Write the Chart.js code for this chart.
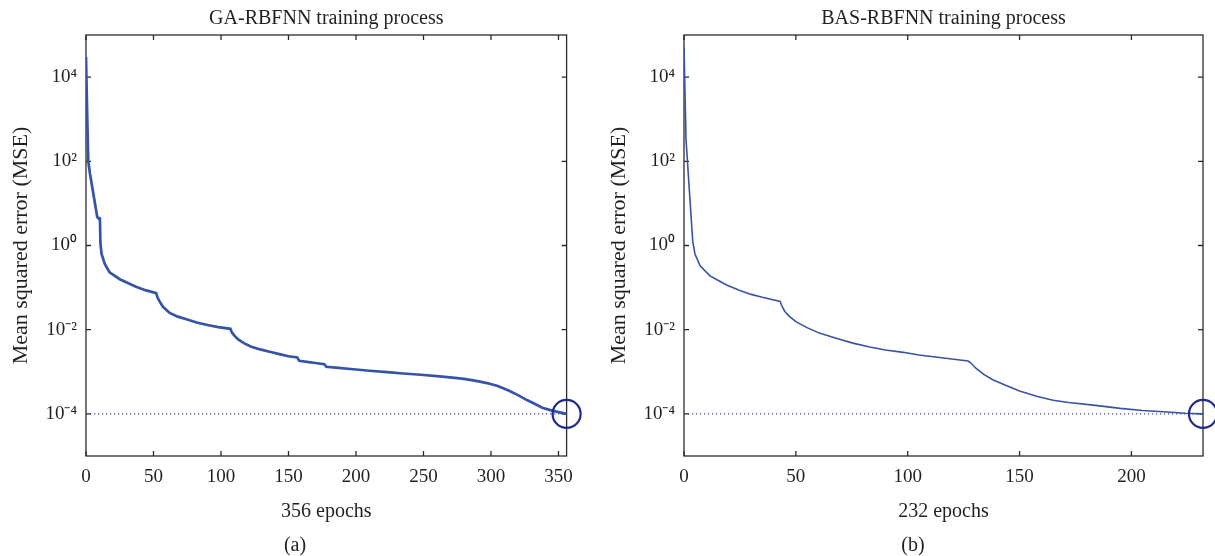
<!DOCTYPE html>
<html>
<head>
<meta charset="utf-8">
<script src="https://cdn.jsdelivr.net/npm/chart.js@4.4.1/dist/chart.umd.min.js"></script>
<style>
html, body { margin: 0; padding: 0; background: #fff; }
#wrap { position: relative; width: 1215px; height: 556px; overflow: hidden; }
#wrap canvas { position: absolute; top: 0; }
.cap { position: absolute; top: 533px; width: 60px; text-align: center; line-height: 23px;
       font: 20px "Liberation Serif", "Times New Roman", serif; color: #231f20; }
</style>
</head>
<body>
<div id="wrap">
  <canvas id="chartA" width="600" height="556" style="left:0"></canvas>
  <canvas id="chartB" width="615" height="556" style="left:600px"></canvas>
  <div class="cap" style="left:265px">(a)</div>
  <div class="cap" style="left:883px">(b)</div>
</div>
<script>
// log axis ticks shared by both panels
const yTickValues = [1e-4, 1e-2, 1, 1e2, 1e4];
const yTickLabels = ['10⁻⁴', '10⁻²', '10⁰', '10²', '10⁴'];
const goalMse = 1e-4;

// GA-RBFNN, 356 epochs
const gaEpochs = [0, 1, 1.7, 2.9, 8.3, 8.8, 10.3, 10.7, 11.5, 14, 17.5, 25, 37, 44, 52, 53, 54.5, 57, 62, 68,
  75, 82, 90, 98, 107, 108, 110.5, 113, 117, 122, 129, 136, 144, 150, 156.5, 158, 165, 170, 176.5, 178,
  185, 198, 210, 223, 235, 248, 262, 275, 280, 290, 297, 305, 313, 320, 327, 333, 338, 344, 350, 356];
const gaMse = [30000, 830, 100, 52, 4.8, 4.6, 4.4, 1.12, 0.63, 0.36, 0.23, 0.158, 0.105, 0.087, 0.074, 0.058, 0.047, 0.035, 0.025, 0.0204,
  0.0174, 0.0148, 0.0129, 0.0115, 0.0105, 0.0087, 0.0069, 0.0058, 0.0048, 0.0040, 0.0034, 0.0030, 0.0026, 0.00234, 0.00219, 0.00182, 0.0017, 0.00162, 0.00151, 0.00132,
  0.00126, 0.00115, 0.00106, 0.00098, 0.00091, 0.00085, 0.00078, 0.00071, 0.00068, 0.0006, 0.00054, 0.00046, 0.00036, 0.00028, 0.00021, 0.00017, 0.00014, 0.000123, 0.00011, 0.0001];
const gaXTicks = [0, 50, 100, 150, 200, 250, 300, 350];

// BAS-RBFNN, 232 epochs
const basEpochs = [0, 0.9, 3.9, 4.9, 7.2, 11.6, 16, 19, 25, 30, 35, 43, 43.6, 45, 47, 50, 55, 60.5, 68, 75.5,
  83, 90, 98, 105, 117, 127, 128, 130.6, 134, 138, 144, 150, 158, 165, 172, 183, 195, 205, 216, 224, 232];
const basMse = [52000, 330, 1.26, 0.63, 0.33, 0.19, 0.141, 0.115, 0.085, 0.069, 0.059, 0.047, 0.038, 0.0275, 0.021, 0.0155, 0.0112, 0.0083, 0.0063, 0.0048,
  0.0039, 0.0033, 0.0029, 0.0025, 0.0021, 0.0018, 0.00166, 0.0012, 0.00087, 0.00065, 0.00047, 0.00035, 0.00026, 0.00021, 0.000186, 0.000162, 0.000135, 0.00012, 0.000111, 0.000104, 0.0001];
const basXTicks = [0, 50, 100, 150, 200];

const inkColor = '#231f20';
Chart.defaults.font.family = '"Liberation Serif", "Times New Roman", serif';
Chart.defaults.color = inkColor;

// matlab style box with inward ticks on all four sides
const frameTicks = {
  id: 'frameTicks',
  beforeDatasetsDraw(chart) {
    const { ctx, chartArea: a, scales: { x, y } } = chart;
    ctx.save();
    ctx.strokeStyle = '#2b2b2b';
    ctx.lineWidth = 1.3;
    ctx.strokeRect(a.left, a.top, a.right - a.left, a.bottom - a.top);
    ctx.beginPath();
    for (const t of x.ticks) {
      const px = x.getPixelForValue(t.value);
      ctx.moveTo(px, a.bottom); ctx.lineTo(px, a.bottom - 5);
      ctx.moveTo(px, a.top); ctx.lineTo(px, a.top + 5);
    }
    for (const t of y.ticks) {
      const py = y.getPixelForValue(t.value);
      ctx.moveTo(a.left, py); ctx.lineTo(a.left + 5, py);
      ctx.moveTo(a.right, py); ctx.lineTo(a.right - 5, py);
    }
    ctx.stroke();
    ctx.restore();
  }
};

function makeChart(id, p) {
  const ctx = document.getElementById(id).getContext('2d');
  return new Chart(ctx, {
    type: 'line',
    data: {
      datasets: [
        {
          // goal marker circle at the last epoch
          data: [{ x: p.xMax, y: goalMse }],
          showLine: false,
          pointRadius: 14,
          pointBorderWidth: 2.2,
          pointBorderColor: '#1f2a8a',
          pointBackgroundColor: 'rgba(0,0,0,0)',
          clip: false
        },
        {
          data: p.epochs.map((e, i) => ({ x: e, y: p.mse[i] })),
          borderColor: '#3653a5',
          borderWidth: p.lineWidth,
          pointRadius: 0,
          tension: 0,
          fill: false
        },
        {
          data: [{ x: 0, y: goalMse }, { x: p.xMax, y: goalMse }],
          borderColor: '#50508a',
          borderWidth: 1.3,
          borderDash: [1.3, 2.7],
          pointRadius: 0,
          fill: false
        }
      ]
    },
    options: {
      responsive: false,
      animation: false,
      devicePixelRatio: 1,
      layout: { autoPadding: false, padding: { left: 0, right: p.padRight, top: 0, bottom: 32 } },
      plugins: {
        legend: { display: false },
        tooltip: { enabled: false },
        title: {
          display: true,
          text: p.title,
          fullSize: false,
          color: inkColor,
          font: { size: 20, weight: 'normal' },
          padding: { top: 7, bottom: 4 }
        }
      },
      scales: {
        x: {
          type: 'linear',
          min: 0,
          max: p.xMax,
          afterBuildTicks: s => { s.ticks = p.xTicks.map(v => ({ value: v })); },
          afterFit: s => { s.height = 68; },
          grid: { display: false, drawTicks: false },
          border: { display: false },
          ticks: { font: { size: 19 }, padding: 10, maxRotation: 0, autoSkip: false },
          title: { display: true, text: p.xTitle, font: { size: 20 }, padding: { top: 0, bottom: 0 } }
        },
        y: {
          type: 'logarithmic',
          min: 1e-5,
          max: 1e5,
          afterBuildTicks: s => { s.ticks = yTickValues.map(v => ({ value: v })); },
          afterFit: s => { s.width = p.yAxisWidth; },
          grid: { display: false, drawTicks: false },
          border: { display: false },
          ticks: {
            font: { size: 19 },
            padding: 9,
            autoSkip: false,
            callback: v => yTickLabels[yTickValues.indexOf(v)] || ''
          },
          title: { display: true, text: 'Mean squared error (MSE)', font: { size: 22 }, padding: { top: p.yTitlePad, bottom: 0 } }
        }
      }
    },
    plugins: [frameTicks]
  });
}

makeChart('chartA', {
  title: 'GA-RBFNN training process', xTitle: '356 epochs',
  epochs: gaEpochs, mse: gaMse, xMax: 356, xTicks: gaXTicks,
  lineWidth: 2.7, padRight: 33.4, yAxisWidth: 86, yTitlePad: 8
});
makeChart('chartB', {
  title: 'BAS-RBFNN training process', xTitle: '232 epochs',
  epochs: basEpochs, mse: basMse, xMax: 232, xTicks: basXTicks,
  lineWidth: 1.6, padRight: 12, yAxisWidth: 84, yTitlePad: 6
});
</script>
</body>
</html>
